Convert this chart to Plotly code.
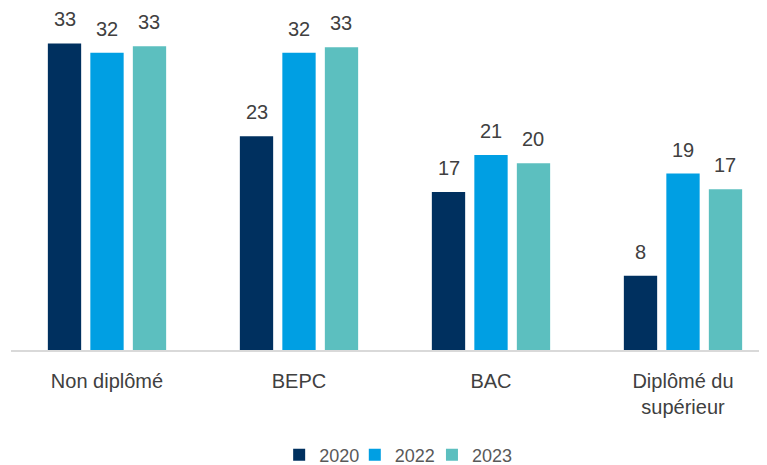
import plotly.graph_objects as go

categories = ["Non diplômé", "BEPC", "BAC", "Diplômé du<br>supérieur"]
years = ["2020", "2022", "2023"]
values_2020 = [33.0, 23.0, 17.0, 8.0]
values_2022 = [32.0, 32.0, 21.0, 19.0]
values_2023 = [32.7, 32.6, 20.1, 17.3]
series = [values_2020, values_2022, values_2023]
colors = ["#00305F", "#009FE3", "#5CBFBF"]

W, H = 767, 465
ML, MR, MT, MB = 3, 0, 2, 123
BARGAP = 0.336
PXU = 192.0
XR = [-0.5, -0.5 + (W - ML - MR) / PXU]
YR = [0, 36.6]
legend_x = [0.351, 0.450, 0.551]

fig = go.Figure()
legend_ids = ["legend", "legend2", "legend3"]
for name, vals, col, lid in zip(years, series, colors, legend_ids):
    fig.add_trace(go.Bar(
        x=categories, y=vals, name=name, legend=lid, showlegend=True,
        marker=dict(color=col, line=dict(width=0)),
    ))

# value labels above bars
slot = (1 - BARGAP) / len(series) * PXU
annotations = []
for i, vals in enumerate(series):
    off = (i - (len(series) - 1) / 2) * slot
    for c, v in zip(categories, vals):
        annotations.append(dict(
            x=c, y=v, xref="x", yref="y", text=f"{round(v):d}",
            showarrow=False, xshift=off, yanchor="bottom", yshift=11,
            font=dict(size=20, color="#404040", family="Liberation Sans, Arial"),
        ))

legend_style = dict(orientation="h", xanchor="left", y=-0.309, yanchor="middle",
                    font=dict(size=18, color="#595959"), itemwidth=30,
                    bgcolor="rgba(0,0,0,0)", visible=True)
legends = {lid: dict(legend_style, x=lx) for lid, lx in zip(legend_ids, legend_x)}

fig.update_layout(
    width=W, height=H, showlegend=True,
    margin=dict(l=ML, r=MR, t=MT, b=MB, autoexpand=False),
    barmode="group", bargap=BARGAP, bargroupgap=0.216,
    plot_bgcolor="white", paper_bgcolor="white",
    font=dict(family="Liberation Sans, Arial", color="#404040"),
    annotations=annotations,
    xaxis=dict(range=XR, showline=True, linecolor="#D9D9D9", linewidth=1.5,
               showgrid=False, ticks="", ticklabelstandoff=12, automargin=False,
               tickfont=dict(size=20, color="#404040")),
    yaxis=dict(range=YR, visible=False, showgrid=False),
    **legends,
)

fig.write_html("out.html")
